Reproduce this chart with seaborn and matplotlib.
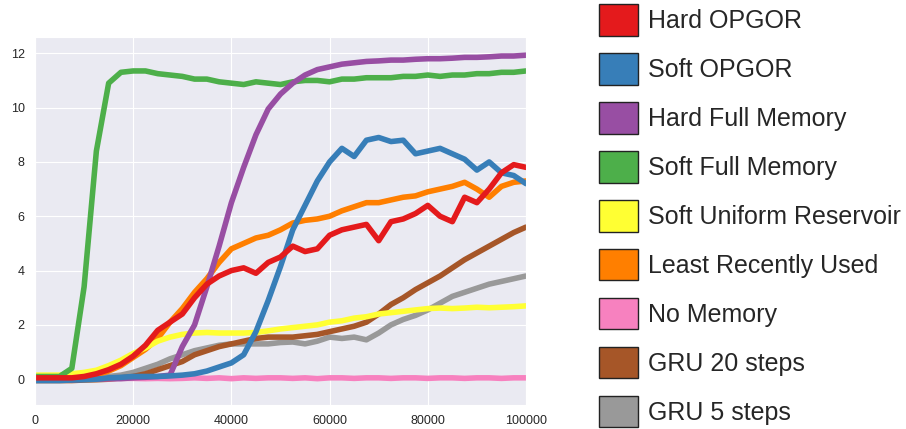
import numpy as np
import pandas as pd
import matplotlib
matplotlib.use("Agg")
import matplotlib.pyplot as plt
from matplotlib.patches import Patch
import seaborn as sns

steps = [0, 2500, 5000, 7500, 10000, 12500, 15000, 17500, 20000, 22500,
         25000, 27500, 30000, 32500, 35000, 37500, 40000, 42500, 45000, 47500,
         50000, 52500, 55000, 57500, 60000, 62500, 65000, 67500, 70000, 72500,
         75000, 77500, 80000, 82500, 85000, 87500, 90000, 92500, 95000, 97500,
         100000]

hard_opgor = [0.05, 0.05, 0.05, 0.05, 0.1, 0.2, 0.35, 0.55, 0.85, 1.25,
              1.8, 2.1, 2.4, 3.0, 3.5, 3.8, 4.0, 4.1, 3.9, 4.3,
              4.5, 4.9, 4.7, 4.8, 5.3, 5.5, 5.6, 5.7, 5.1, 5.8,
              5.9, 6.1, 6.4, 6.0, 5.8, 6.7, 6.5, 7.0, 7.6, 7.9, 7.8]
soft_opgor = [-0.05, -0.05, -0.05, -0.03, -0.02, 0.0, 0.05, 0.07, 0.1, 0.1,
              0.1, 0.12, 0.15, 0.2, 0.3, 0.45, 0.6, 0.9, 1.75, 2.9,
              4.15, 5.5, 6.4, 7.3, 8.0, 8.5, 8.2, 8.8, 8.9, 8.75,
              8.8, 8.3, 8.4, 8.5, 8.3, 8.1, 7.7, 8.0, 7.6, 7.5, 7.2]
hard_full = [0.0, 0.0, 0.0, -0.02, 0.0, 0.0, 0.02, 0.02, 0.05, 0.07,
             0.1, 0.15, 1.2, 2.0, 3.4, 4.9, 6.5, 7.8, 9.0, 9.95,
             10.5, 10.9, 11.2, 11.4, 11.5, 11.6, 11.65, 11.7, 11.72, 11.75,
             11.75, 11.78, 11.8, 11.8, 11.82, 11.85, 11.85, 11.87, 11.9, 11.9, 11.93]
soft_full = [0.1, 0.1, 0.1, 0.4, 3.4, 8.4, 10.9, 11.3, 11.35, 11.35,
             11.25, 11.2, 11.15, 11.05, 11.05, 10.95, 10.9, 10.85, 10.95, 10.9,
             10.85, 10.95, 11.0, 11.0, 10.95, 11.05, 11.05, 11.1, 11.1, 11.1,
             11.15, 11.15, 11.2, 11.15, 11.2, 11.2, 11.25, 11.25, 11.3, 11.3, 11.35]
soft_uniform = [0.15, 0.15, 0.15, 0.2, 0.25, 0.33, 0.5, 0.7, 0.95, 1.15,
                1.4, 1.55, 1.65, 1.7, 1.72, 1.7, 1.7, 1.7, 1.72, 1.78,
                1.85, 1.9, 1.95, 2.0, 2.1, 2.15, 2.25, 2.3, 2.4, 2.45,
                2.5, 2.55, 2.6, 2.62, 2.6, 2.62, 2.65, 2.63, 2.65, 2.67, 2.7]
lru = [0.05, 0.05, 0.05, 0.08, 0.1, 0.15, 0.3, 0.5, 0.8, 1.1,
       1.5, 2.1, 2.6, 3.2, 3.7, 4.3, 4.8, 5.0, 5.2, 5.3,
       5.5, 5.75, 5.85, 5.9, 6.0, 6.2, 6.35, 6.5, 6.5, 6.6,
       6.7, 6.75, 6.9, 7.0, 7.1, 7.25, 7.0, 6.7, 7.1, 7.25, 7.3]
no_memory = [0.02, 0.0, 0.02, 0.0, 0.02, 0.03, 0.02, 0.03, 0.03, 0.02,
             0.03, 0.02, 0.03, 0.05, 0.03, 0.05, 0.02, 0.05, 0.03, 0.05,
             0.05, 0.03, 0.05, 0.02, 0.05, 0.05, 0.03, 0.05, 0.05, 0.03,
             0.05, 0.05, 0.03, 0.05, 0.05, 0.03, 0.05, 0.05, 0.03, 0.05, 0.05]
gru20 = [-0.05, -0.05, -0.05, -0.05, -0.03, -0.02, 0.0, 0.05, 0.1, 0.2,
         0.35, 0.5, 0.65, 0.9, 1.05, 1.2, 1.3, 1.4, 1.5, 1.55,
         1.55, 1.55, 1.6, 1.65, 1.75, 1.85, 1.95, 2.1, 2.4, 2.75,
         3.0, 3.3, 3.55, 3.8, 4.1, 4.4, 4.65, 4.9, 5.15, 5.4, 5.6]
gru5 = [0.1, 0.1, 0.08, 0.05, 0.05, 0.05, 0.1, 0.15, 0.25, 0.4,
        0.55, 0.75, 0.9, 1.05, 1.15, 1.25, 1.3, 1.3, 1.3, 1.3,
        1.35, 1.37, 1.3, 1.4, 1.55, 1.5, 1.55, 1.45, 1.7, 2.0,
        2.2, 2.35, 2.55, 2.8, 3.05, 3.2, 3.35, 3.5, 3.6, 3.7, 3.8]

labels = ["Hard OPGOR", "Soft OPGOR", "Hard Full Memory", "Soft Full Memory",
          "Soft Uniform Reservoir", "Least Recently Used", "No Memory",
          "GRU 20 steps", "GRU 5 steps"]
colors = ["#e41a1c", "#377eb8", "#984ea3", "#4daf4a", "#ffff33",
          "#ff7f00", "#f781bf", "#a65628", "#999999"]
series = [hard_opgor, soft_opgor, hard_full, soft_full, soft_uniform,
          lru, no_memory, gru20, gru5]

frames = []
for lab, vals in zip(labels, series):
    frames.append(pd.DataFrame({"step": steps, "value": vals, "method": lab}))
df = pd.concat(frames, ignore_index=True)

sns.set_style("darkgrid")
plt.rcParams["font.family"] = ["Liberation Sans", "DejaVu Sans"]

fig = plt.figure(figsize=(9.06, 4.29), dpi=100)
ax = fig.add_axes([35 / 906, 1 - 405 / 429, (526 - 35) / 906, (405 - 37) / 429])

palette = dict(zip(labels, colors))
sns.lineplot(data=df, x="step", y="value", hue="method",
             hue_order=labels[::-1], palette=palette, linewidth=4,
             legend=False, ax=ax)

ax.set_xlim(0, 100000)
ax.set_ylim(-0.95, 12.6)
ax.set_xticks([0, 20000, 40000, 60000, 80000, 100000])
ax.set_yticks([0, 2, 4, 6, 8, 10, 12])
ax.set_xlabel("")
ax.set_ylabel("")
ax.tick_params(labelsize=9, colors=".15", pad=4)

handles = [Patch(facecolor=c, edgecolor="#222222", linewidth=1.0, label=l)
           for l, c in zip(labels, colors)]
fig.legend(handles=handles, loc="upper left",
           bbox_to_anchor=(599 / 906, 1 - 4 / 429),
           frameon=False, fontsize=18, handlelength=1.56, handleheight=1.574,
           handletextpad=0.4, labelspacing=0.69, borderpad=0,
           borderaxespad=0)

fig.savefig("out.png", dpi=100)
